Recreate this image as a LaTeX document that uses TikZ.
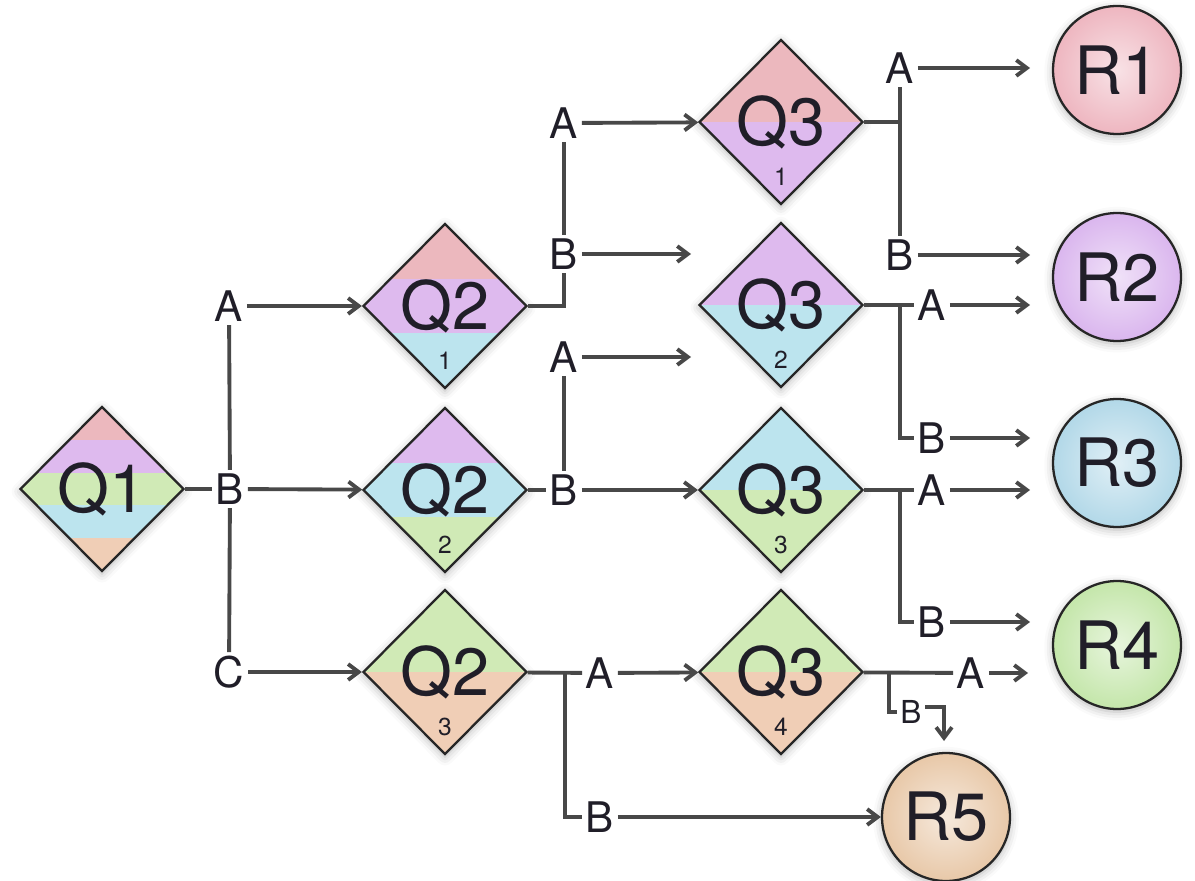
\documentclass[tikz,border=0pt]{standalone}
\usepackage{fontspec}
\setmainfont{TeX Gyre Heros}
\usetikzlibrary{shapes.geometric,calc,arrows.meta,shadows.blur}
\definecolor{qpink}{RGB}{236,184,190}
\definecolor{qpurple}{RGB}{222,186,238}
\definecolor{qgreen}{RGB}{208,234,182}
\definecolor{qcyan}{RGB}{188,228,238}
\definecolor{qpeach}{RGB}{240,206,182}
\definecolor{rpink}{RGB}{238,182,192}
\definecolor{rpurple}{RGB}{218,182,238}
\definecolor{rcyan}{RGB}{178,216,232}
\definecolor{rgreen}{RGB}{196,230,170}
\definecolor{rpeach}{RGB}{232,200,168}
\definecolor{gris}{RGB}{72,72,72}
\definecolor{texto}{RGB}{32,30,40}
\begin{document}
\begin{tikzpicture}[x=0.02cm,y=-0.02cm,>={Straight Barb[length=6pt,width=9pt]},
	linea/.style={draw=gris,line width=2.2pt},
	flecha/.style={linea,->},
	opc/.style={font=\fontsize{24}{26}\selectfont,inner sep=2pt,text=texto},
	sub/.style={font=\fontsize{14}{16}\selectfont,inner sep=1pt,text=texto},
	sombra/.style={blur shadow={shadow xshift=0pt,shadow yshift=-1.5pt,shadow blur radius=5pt,shadow opacity=30}},
	preg/.style={diamond,draw=black!85,line width=1.3pt,minimum width=3.28cm,minimum height=3.3cm,inner sep=0pt,font=\fontsize{38}{40}\selectfont,text=texto,sombra},
	franjas/.style 2 args={path picture={
		\foreach \c [count=\i from 0] in {#2}
			\fill[\c] ($(path picture bounding box.north west)!{\i/#1}!(path picture bounding box.south west)$) rectangle ($(path picture bounding box.north east)!{(\i+1)/#1}!(path picture bounding box.south east)$);}},
	res/.style={circle,draw=black!85,line width=1.3pt,minimum size=2.56cm,inner sep=0pt,font=\fontsize{38}{40}\selectfont,text=texto,inner color=#1!40!white,outer color=#1,sombra}]

	\useasboundingbox (0,0) rectangle (1195,881);

	% Preguntas
	\node[preg,franjas={5}{qpink,qpurple,qgreen,qcyan,qpeach}] (q1) at (102,489) {Q1};
	\node[preg,franjas={3}{qpink,qpurple,qcyan}] (q21) at (445,306) {Q2};
	\node[preg,franjas={3}{qpurple,qcyan,qgreen}] (q22) at (445,490) {Q2};
	\node[preg,franjas={2}{qgreen,qpeach}] (q23) at (445,672) {Q2};
	\node[preg,franjas={2}{qpink,qpurple}] (q31) at (781,122) {Q3};
	\node[preg,franjas={2}{qpurple,qcyan}] (q32) at (781,305) {Q3};
	\node[preg,franjas={2}{qcyan,qgreen}] (q33) at (781,490) {Q3};
	\node[preg,franjas={2}{qgreen,qpeach}] (q34) at (781,672) {Q3};
	\node[sub] (s21) at (445,361) {1};
	\node[sub] (s22) at (445,545) {2};
	\node[sub] (s23) at (445,727) {3};
	\node[sub] (s31) at (781,177) {1};
	\node[sub] (s32) at (781,360) {2};
	\node[sub] (s33) at (781,545) {3};
	\node[sub] (s34) at (781,727) {4};

	% Resultados
	\node[res=rpink] (r1) at (1117,70) {R1};
	\node[res=rpurple] (r2) at (1117,277) {R2};
	\node[res=rcyan] (r3) at (1117,463) {R3};
	\node[res=rgreen] (r4) at (1117,645) {R4};
	\node[res=rpeach] (r5) at (946,817) {R5};

	% Opciones
	\node[opc] (a1) at (229,306) {A};
	\node[opc] (b1) at (230,489) {B};
	\node[opc] (c1) at (229,672) {C};
	\node[opc] (a21) at (564,123) {A};
	\node[opc] (b21) at (564,254) {B};
	\node[opc] (a22) at (564,357) {A};
	\node[opc] (b22) at (564,490) {B};
	\node[opc] (a23) at (600,673) {A};
	\node[opc] (b23) at (600,817) {B};
	\node[opc] (a31) at (900,68) {A};
	\node[opc] (b31) at (900,255) {B};
	\node[opc] (a32) at (932,305) {A};
	\node[opc] (b32) at (932,438) {B};
	\node[opc] (a33) at (932,490) {A};
	\node[opc] (b33) at (932,622) {B};
	\node[opc] (a34) at (971,673) {A};
	\node[opc,font=\fontsize{18}{20}\selectfont] (b34) at (911,712) {B};

	\coordinate (j23) at (565,672);
	\coordinate (j31) at (900,122);
	\coordinate (j32) at (900,305);
	\coordinate (j33) at (900,490);
	\coordinate (j34) at (889,672);
	\coordinate (f21) at (691,254);
	\coordinate (f22) at (691,357);
	\coordinate (f31a) at (1030,68);
	\coordinate (f31b) at (1030,255);
	\coordinate (f32a) at (1030,305);
	\coordinate (f32b) at (1030,438);
	\coordinate (f33a) at (1030,490);
	\coordinate (f33b) at (1030,622);
	\coordinate (f34a) at (1028,673);
	\coordinate (f34b) at (944,741);

	% Q1
	\draw[linea] (q1) -- (b1);
	\draw[linea] (a1) -- (b1) -- (c1);
	\draw[flecha] (a1) -- (q21);
	\draw[flecha] (b1) -- (q22);
	\draw[flecha] (c1) -- (q23);

	% Q2
	\draw[linea] (q21) -| (b21);
	\draw[linea] (b21) -- (a21);
	\draw[flecha] (a21) -- (q31);
	\draw[flecha] (b21) -- (f21);
	\draw[linea] (q22) -- (b22);
	\draw[linea] (b22) -- (a22);
	\draw[flecha] (a22) -- (f22);
	\draw[flecha] (b22) -- (q33);
	\draw[linea] (q23) -- (a23);
	\draw[linea] (j23) |- (b23);
	\draw[flecha] (a23) -- (q34);
	\draw[flecha] (b23) -- (r5);

	% Q3
	\draw[linea] (q31) -- (j31);
	\draw[linea] (a31) -- (b31);
	\draw[flecha] (a31) -- (f31a);
	\draw[flecha] (b31) -- (f31b);
	\draw[linea] (q32) -- (a32);
	\draw[linea] (j32) |- (b32);
	\draw[flecha] (a32) -- (f32a);
	\draw[flecha] (b32) -- (f32b);
	\draw[linea] (q33) -- (a33);
	\draw[linea] (j33) |- (b33);
	\draw[flecha] (a33) -- (f33a);
	\draw[flecha] (b33) -- (f33b);
	\draw[linea] (q34) -- (a34);
	\draw[linea] (j34) |- (b34);
	\draw[flecha] (a34) -- (f34a);
	\draw[flecha] ([yshift=3pt]b34.east) -| (f34b);
\end{tikzpicture}
\end{document}
